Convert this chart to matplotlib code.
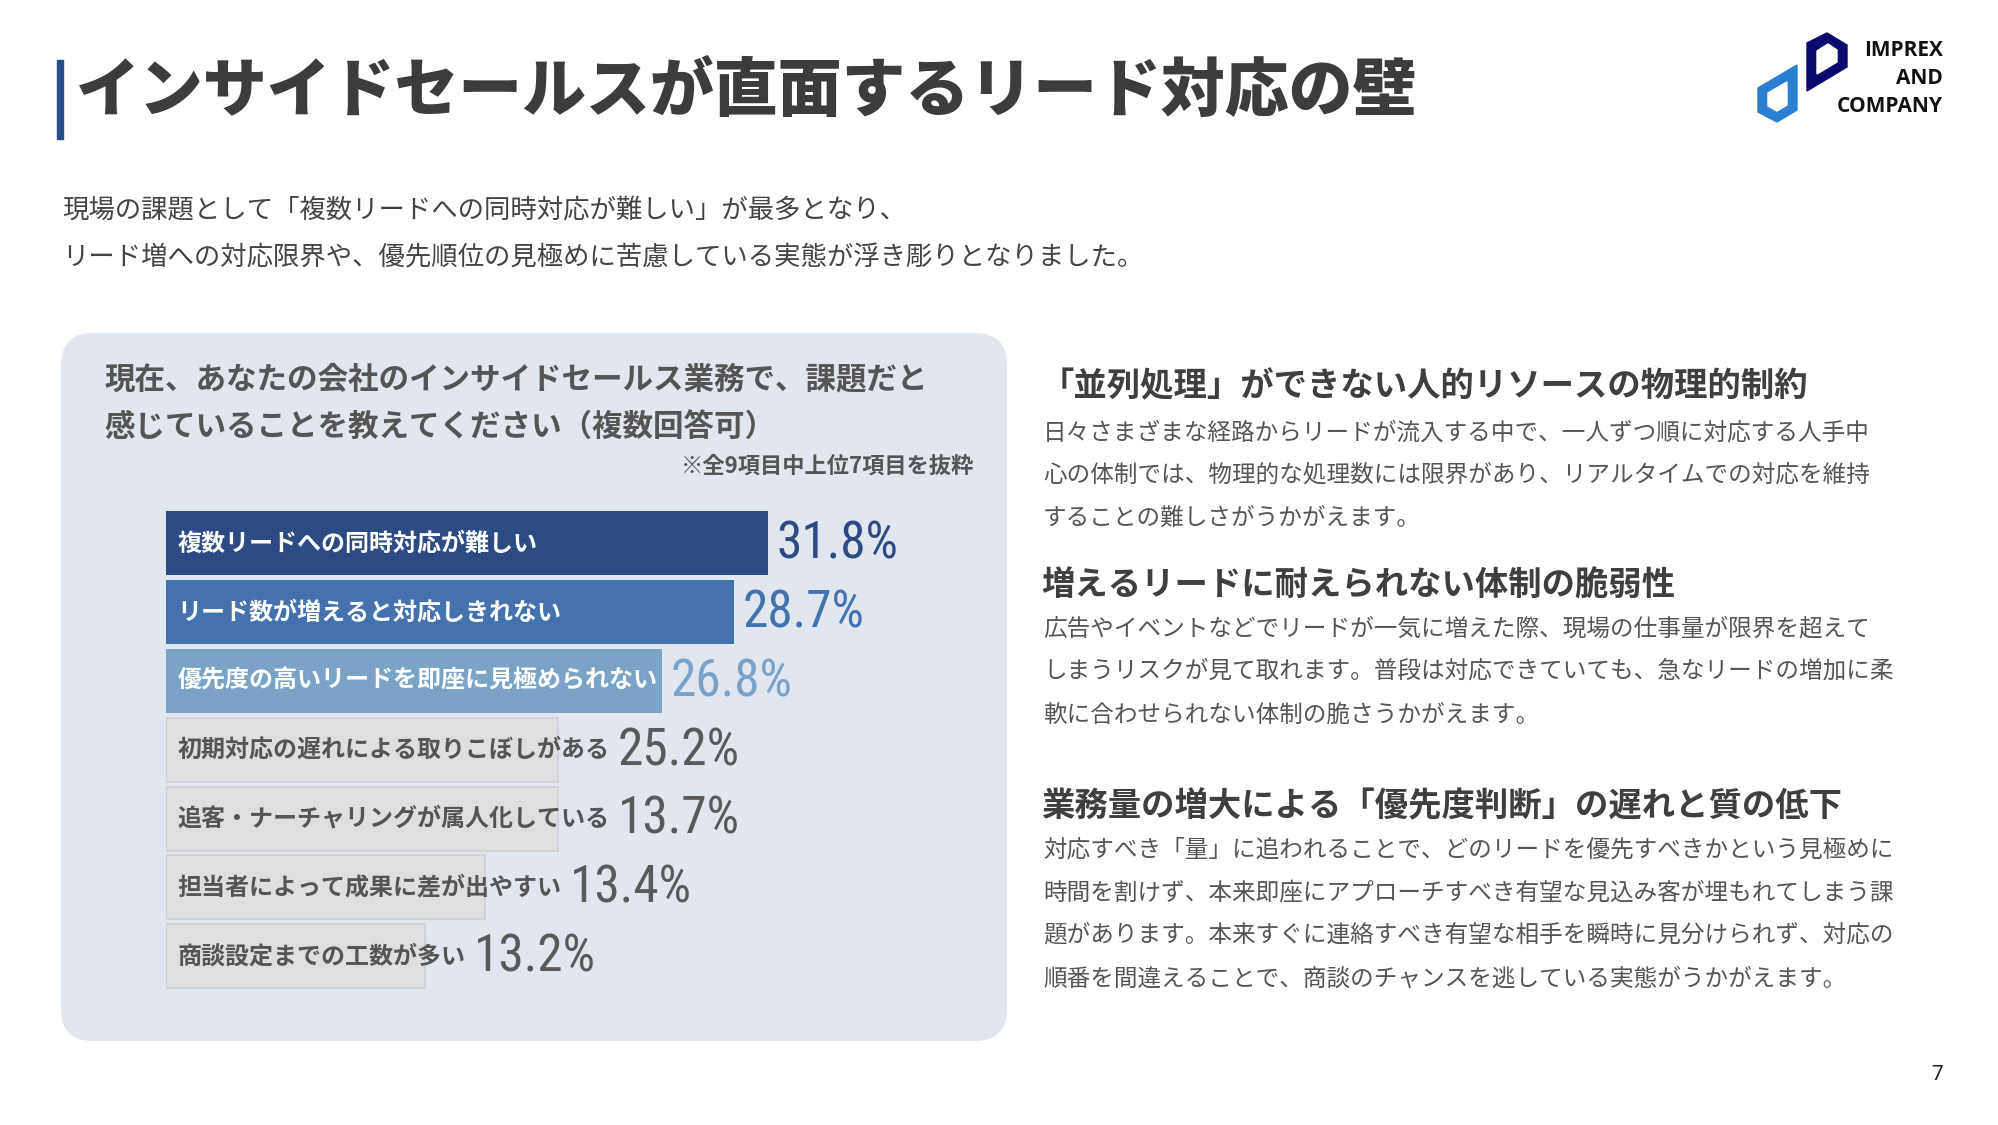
import matplotlib
matplotlib.use('Agg')
import matplotlib.pyplot as plt
from matplotlib.patches import FancyBboxPatch, Polygon, Rectangle

plt.rcParams['font.family'] = ['Noto Sans CJK JP', 'DejaVu Sans']

# ---- data ----
title = 'インサイドセールスが直面するリード対応の壁'
subtitle = ['現場の課題として「複数リードへの同時対応が難しい」が最多となり、',
            'リード増への対応限界や、優先順位の見極めに苦慮している実態が浮き彫りとなりました。']
question = ['現在、あなたの会社のインサイドセールス業務で、課題だと',
            '感じていることを教えてください（複数回答可）']
note = '※全9項目中上位7項目を抜粋'

categories = ['複数リードへの同時対応が難しい',
              'リード数が増えると対応しきれない',
              '優先度の高いリードを即座に見極められない',
              '初期対応の遅れによる取りこぼしがある',
              '追客・ナーチャリングが属人化している',
              '担当者によって成果に差が出やすい',
              '商談設定までの工数が多い']
values = [31.8, 28.7, 26.8, 25.2, 13.7, 13.4, 13.2]
# bar lengths as drawn in the reference (not proportional to the labels)
bar_lengths = [31.8, 30.0, 26.2, 20.7, 20.7, 16.85, 13.7]
bar_colors = ['#2E4A85', '#4472AE', '#7BA3C8', '#DFDFDF', '#DFDFDF', '#DFDFDF', '#DFDFDF']
label_colors = ['white', 'white', 'white', '#555555', '#555555', '#555555', '#555555']
value_colors = ['#2E4A85', '#4472AE', '#7BA3C8', '#5A5A5A', '#5A5A5A', '#5A5A5A', '#5A5A5A']

headings = ['「並列処理」ができない人的リソースの物理的制約',
            '増えるリードに耐えられない体制の脆弱性',
            '業務量の増大による「優先度判断」の遅れと質の低下']
bodies = [['日々さまざまな経路からリードが流入する中で、一人ずつ順に対応する人手中',
           '心の体制では、物理的な処理数には限界があり、リアルタイムでの対応を維持',
           'することの難しさがうかがえます。'],
          ['広告やイベントなどでリードが一気に増えた際、現場の仕事量が限界を超えて',
           'しまうリスクが見て取れます。普段は対応できていても、急なリードの増加に柔',
           '軟に合わせられない体制の脆さうかがえます。'],
          ['対応すべき「量」に追われることで、どのリードを優先すべきかという見極めに',
           '時間を割けず、本来即座にアプローチすべき有望な見込み客が埋もれてしまう課',
           '題があります。本来すぐに連絡すべき有望な相手を瞬時に見分けられず、対応の',
           '順番を間違えることで、商談のチャンスを逃している実態がうかがえます。']]
heading_y = [387, 586, 807]
body_y = [[433, 475, 518], [629, 671, 715], [850, 893, 935, 979]]

W, H = 1999, 1125
fig = plt.figure(figsize=(W / 100, H / 100), dpi=100)
fig.patch.set_facecolor('white')

# page layer in pixel coordinates
bg = fig.add_axes([0, 0, 1, 1])
bg.set_xlim(0, W)
bg.set_ylim(H, 0)
bg.axis('off')

# title
bg.add_patch(Rectangle((57, 60), 6, 79, color='#2B4C8C', zorder=2))
bg.text(76, 92, title, fontsize=46, fontweight=900, color='#3C3C3C', va='center')

# logo
bg.add_patch(Polygon([(1758, 88), (1797, 65), (1797, 110), (1777, 122), (1758, 112)], color='#2B7FD0'))
bg.add_patch(Polygon([(1768, 93), (1787, 82), (1787, 105), (1777, 111), (1768, 106)], color='white'))
bg.add_patch(Polygon([(1807, 43), (1827, 33), (1847, 45), (1847, 67), (1807, 91)], color='#0A0A6E'))
bg.add_patch(Polygon([(1817, 51), (1828, 44), (1837, 50), (1837, 62), (1817, 74)], color='white'))
for txt, y in zip(['IMPREX', 'AND', 'COMPANY'], [50, 78, 107]):
    bg.text(1943, y, txt, fontsize=15, fontweight='bold', color='#111111',
            ha='right', va='center', family=['Open Sans', 'DejaVu Sans'])

# subtitle
for line, y in zip(subtitle, [211, 258]):
    bg.text(62, y, line, fontsize=19, color='#444444', va='center')

# panel
bg.add_patch(FancyBboxPatch((61, 333), 946, 708, boxstyle='round,pad=0,rounding_size=32',
                            facecolor='#E1E6EF', edgecolor='none', zorder=0))
for line, y in zip(question, [379, 427]):
    bg.text(104, y, line, fontsize=22, fontweight='bold', color='#555555', va='center')
bg.text(974, 466, note, fontsize=16, fontweight='bold', color='#555555', ha='right', va='center')

# right column
for head, hy, lines, ys in zip(headings, heading_y, bodies, body_y):
    bg.text(1041, hy, head, fontsize=24, fontweight='bold', color='#3F3F3F', va='center')
    for line, y in zip(lines, ys):
        bg.text(1043, y, line, fontsize=17, color='#555555', va='center')

bg.text(1937, 1074, '7', fontsize=15, color='#222222', ha='center', va='center',
        family=['Roboto', 'DejaVu Sans'])

# bar chart
scale = 18.93  # px per percent
left_px, top_px, step = 166, 509, 68.8
ax_w = 40 * scale
ax_h = len(categories) * step
ax = fig.add_axes([left_px / W, 1 - (top_px + ax_h) / H, ax_w / W, ax_h / H])
ax.set_xlim(0, 40)
ax.set_ylim(len(categories) - 0.5, -0.5)
ax.axis('off')
ax.patch.set_alpha(0)

ypos = list(range(len(categories)))
edges = ['none', 'none', 'none', '#CFCFD4', '#CFCFD4', '#CFCFD4', '#CFCFD4']
ax.barh(ypos, bar_lengths, height=0.93, color=bar_colors, edgecolor=edges, linewidth=1.2)

labels = []
for i, cat in enumerate(categories):
    t = ax.text(0.6, i, cat, fontsize=17.3, fontweight='bold', color=label_colors[i],
                va='center', ha='left')
    labels.append(t)

fig.canvas.draw()
renderer = fig.canvas.get_renderer()
inv = ax.transData.inverted()
for i, t in enumerate(labels):
    bb = t.get_window_extent(renderer)
    text_end = inv.transform((bb.x1, 0))[0]
    x0 = max(bar_lengths[i], text_end) + 0.45
    ax.text(x0, i + 0.02, f'{values[i]}%', fontsize=37, fontweight='normal',
            color=value_colors[i], va='center', ha='left', stretch='condensed',
            family=['Roboto Condensed', 'Liberation Sans Narrow', 'DejaVu Sans'])

fig.savefig('out.png', dpi=100, facecolor='white')
